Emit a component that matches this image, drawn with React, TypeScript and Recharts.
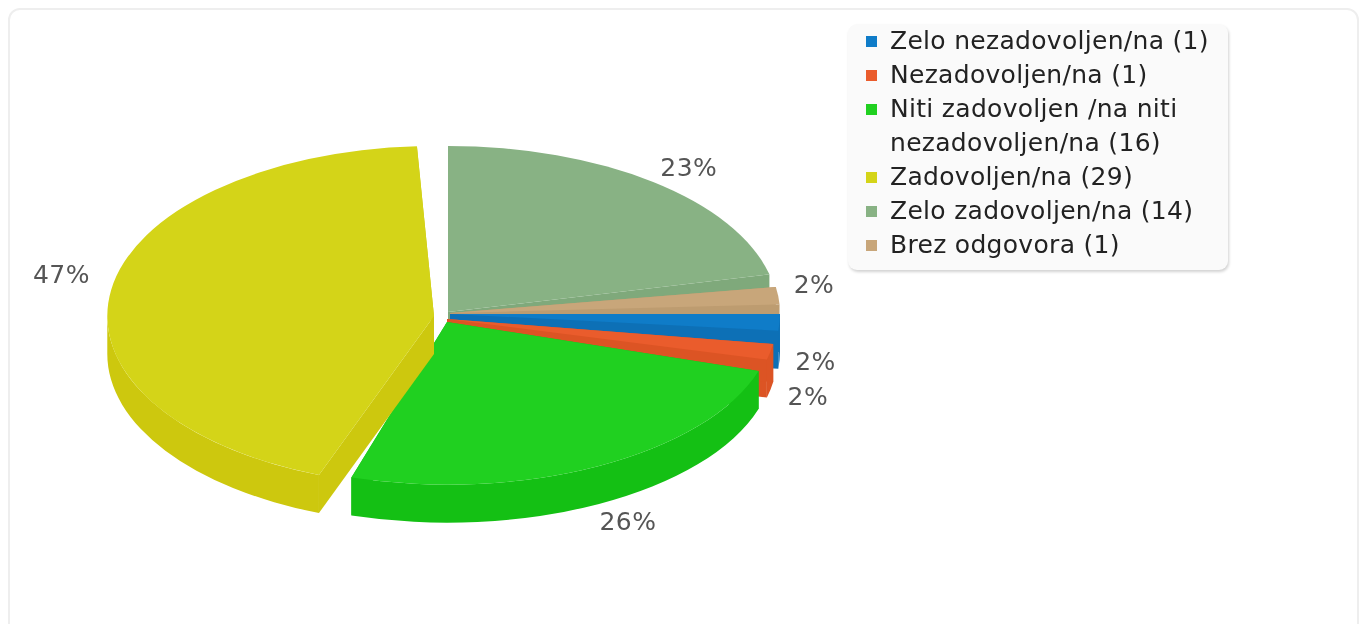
import React from 'react';
import { PieChart, Pie, Legend } from 'recharts';

const labels = [
  'Zelo nezadovoljen/na',
  'Nezadovoljen/na',
  'Niti zadovoljen /na niti nezadovoljen/na',
  'Zadovoljen/na',
  'Zelo zadovoljen/na',
  'Brez odgovora',
];
const counts = [1, 1, 16, 29, 14, 1];

const topColors = ['#0f7cc8', '#ea5c2c', '#20d020', '#d4d418', '#88b284', '#c8a67a'];
const wallColors = ['#0d70b6', '#dc5424', '#14c014', '#cdc80e', '#7fa97b', '#bd9c70'];

// how far each slice is pulled away from the centre, and how the 3d view bends it
const pullX = [0, -3, -3, -16, -2, 0];
const pullY = [0, 5, 8, 2, -2, -1];
const squash = [0.5, 0.5, 0.498, 0.52, 0.503, 0.5];
const radiusScale = [1, 1, 0.99, 0.99, 1, 1];
const startTurn = [0, 2.9, 5.9, 6.1, -2.9, -3.3];
const endTurn = [0, 2.6, 2.5, -5.9, -7.3, -3];
const labelNudgeX = [6, 8, 15, -20, 17, 6];
const labelNudgeY = [0, 4, 4, -13, -3, -10];

const CX = 450;
const CY = 314;
const RADIUS = 330;
const DEPTH = 38;
const FONT = '"DejaVu Sans", sans-serif';

const total = counts.reduce((a, b) => a + b, 0);
// drawn back to front, so the pie starts at the sage slice
const drawOrder = [4, 5, 0, 1, 2, 3];
const pieData = drawOrder.map(slot => ({ name: labels[slot], value: counts[slot], slot }));
const leadIn = (counts.slice(0, 4).reduce((a, b) => a + b, 0) / total) * 360;

const rad = (deg: number) => (deg * Math.PI) / 180;

function Slice3D(props: any) {
  const slot = props.slot ?? props.payload?.slot;
  const from = -props.startAngle + startTurn[slot];
  const to = -props.endAngle + endTurn[slot];
  const ax = props.cx + pullX[slot];
  const ay = props.cy + pullY[slot];
  const rx = props.outerRadius * radiusScale[slot];
  const ry = rx * squash[slot];
  const px = (a: number) => ax + rx * Math.cos(rad(a));
  const py = (a: number) => ay + ry * Math.sin(rad(a));
  const arc = (a: number, b: number, off: number, sweep: number) =>
    `A ${rx} ${ry} 0 ${Math.abs(b - a) > 180 ? 1 : 0} ${sweep} ${px(b)} ${py(b) + off}`;

  const top = `M ${ax} ${ay} L ${px(from)} ${py(from)} ${arc(from, to, 0, 1)} Z`;
  const wallFor = (a: number) =>
    `M ${ax} ${ay} L ${px(a)} ${py(a)} L ${px(a)} ${py(a) + DEPTH} L ${ax} ${ay + DEPTH} Z`;

  // the rim is only seen on the near half of the ellipse
  const segs: [number, number][] = [];
  for (const k of [0, 360]) {
    const a = Math.max(from, k);
    const b = Math.min(to, k + 180);
    if (b > a) segs.push([a, b]);
  }

  const wall = wallColors[slot];
  return (
    <g>
      <path d={wallFor(to)} fill={wall} />
      <path d={wallFor(from)} fill={wall} />
      {segs.map(([a, b]) => (
        <path
          key={a}
          d={`M ${px(a)} ${py(a)} ${arc(a, b, 0, 1)} L ${px(b)} ${py(b) + DEPTH} ${arc(b, a, DEPTH, 0)} Z`}
          fill={wall}
        />
      ))}
      <path d={top} fill={topColors[slot]} />
    </g>
  );
}

function PercentLabel(props: any) {
  const slot = props.slot ?? props.payload?.slot;
  const gain = 30;
  const mid = (-props.startAngle + startTurn[slot] - props.endAngle + endTurn[slot]) / 2;
  const rx = props.outerRadius * radiusScale[slot];
  const ry = rx * squash[slot];
  const s = Math.sin(rad(mid));
  const x = props.cx + pullX[slot] + (rx + gain) * Math.cos(rad(mid)) + labelNudgeX[slot];
  const y = props.cy + pullY[slot] + (ry + gain / 2) * s + (s > 0 ? DEPTH : 0) + labelNudgeY[slot];
  return (
    <text
      x={x}
      y={y}
      textAnchor="middle"
      dominantBaseline="central"
      fill="#555555"
      fontSize={25}
      letterSpacing={0.5}
      fontFamily={FONT}
    >
      {`${Math.round((counts[slot] / total) * 100)}%`}
    </text>
  );
}

function LegendBox() {
  return (
    <div
      style={{
        width: 380,
        height: 246,
        boxSizing: 'border-box',
        padding: '0 0 0 18px',
        background: '#fafafa',
        borderRadius: 9,
        boxShadow: '1px 2px 3px rgba(0,0,0,0.18)',
        fontFamily: FONT,
        fontSize: 25,
        letterSpacing: 0.3,
        lineHeight: '34px',
        color: '#222222',
      }}
    >
      {labels.map((label, i) => (
        <div key={label} style={{ display: 'flex', alignItems: 'flex-start' }}>
          <span
            style={{
              width: 11,
              height: 11,
              marginTop: 12,
              marginRight: 13,
              flex: 'none',
              background: topColors[i],
            }}
          />
          <span style={{ width: 330 }}>{`${label} (${counts[i]})`}</span>
        </div>
      ))}
    </div>
  );
}

export default function App() {
  return (
    <div style={{ position: 'absolute', left: 0, top: 0, width: 1365, height: 624, overflow: 'hidden', background: '#fff' }}>
      <div style={{ position: 'absolute', left: 0, top: 0, width: 1365, height: 624, filter: 'blur(0.5px)' }}>
        <div
          style={{
            position: 'absolute',
            left: 8,
            top: 8,
            width: 1351,
            height: 630,
            boxSizing: 'border-box',
            border: '2px solid #eeeeee',
            borderRadius: 12,
          }}
        />
        <div style={{ position: 'absolute', left: 0, top: 0 }}>
          <PieChart width={1365} height={624} margin={{ top: 0, right: 0, bottom: 0, left: 0 }}>
            <Pie
              data={pieData}
              dataKey="value"
              nameKey="name"
              cx={CX}
              cy={CY}
              outerRadius={RADIUS}
              startAngle={-leadIn}
              endAngle={-leadIn - 360}
              stroke="none"
              labelLine={false}
              label={PercentLabel}
              shape={Slice3D}
              isAnimationActive={false}
            />
            <Legend
              content={<LegendBox />}
              layout="vertical"
              wrapperStyle={{ position: 'absolute', left: 848, top: 24, width: 380, height: 246 }}
            />
          </PieChart>
        </div>
      </div>
    </div>
  );
}
